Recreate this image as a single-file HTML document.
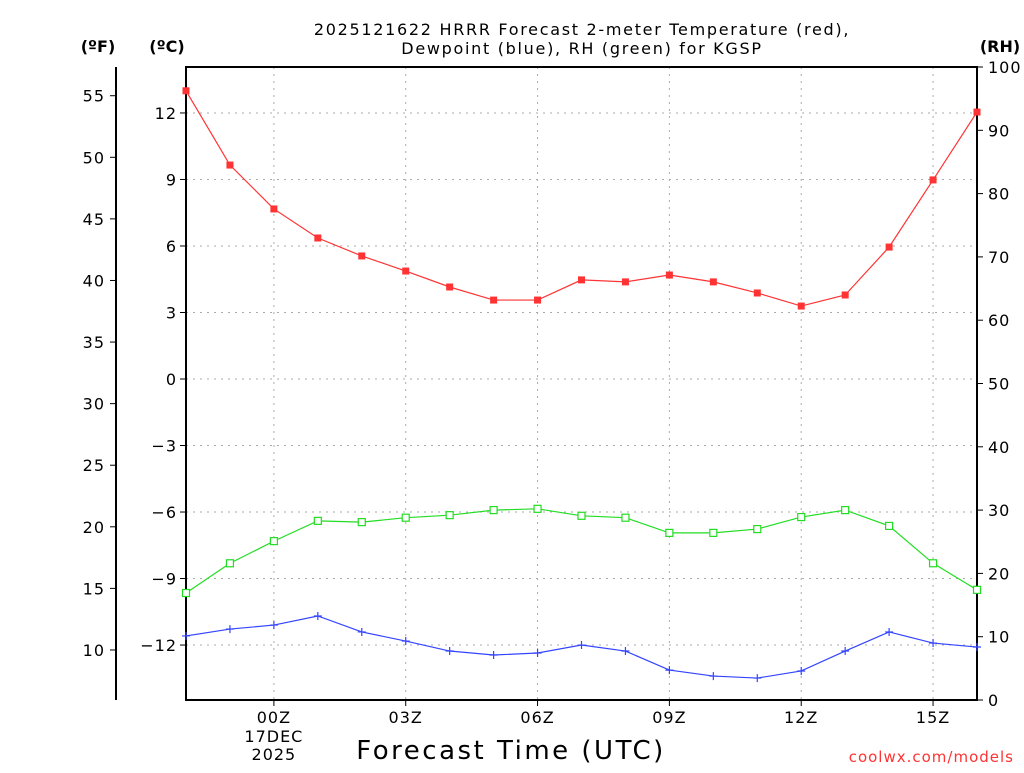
<!DOCTYPE html>
<html><head><meta charset="utf-8"><style>
body{margin:0;background:#fff;}
svg text{font-family:"DejaVu Sans","Liberation Sans",sans-serif;}
</style></head><body>
<svg id="chart" width="1024" height="768" xmlns="http://www.w3.org/2000/svg">
<rect width="1024" height="768" fill="#fff"/>
<g id="grid"></g>
<g id="axes"></g>
<g id="series"></g>
<text x="582" y="35" text-anchor="middle" font-size="16" letter-spacing="1.7">2025121622 HRRR Forecast 2-meter Temperature (red),</text>
<text x="582" y="54" text-anchor="middle" font-size="16" letter-spacing="1.7">Dewpoint (blue), RH (green) for KGSP</text>
<text x="98" y="52" text-anchor="middle" font-size="16" font-weight="bold">(ºF)</text>
<text x="167" y="52" text-anchor="middle" font-size="16" font-weight="bold">(ºC)</text>
<text x="1000" y="52" text-anchor="middle" font-size="16" font-weight="bold">(RH)</text>
<text x="511" y="759" text-anchor="middle" font-size="26" letter-spacing="2.5">Forecast Time (UTC)</text>
<text x="1014" y="762" text-anchor="end" font-size="15" fill="#ff3333" letter-spacing="1">coolwx.com/models</text>
</svg>
<script>
const hours = [22,23,0,1,2,3,4,5,6,7,8,9,10,11,12,13,14,15,16];
const tempC = [13.0,9.65,7.67,6.36,5.55,4.87,4.15,3.56,3.56,4.47,4.38,4.69,4.38,3.88,3.29,3.79,5.95,8.98,12.04];
const dewC = [-11.59,-11.28,-11.1,-10.69,-11.41,-11.82,-12.27,-12.45,-12.36,-12.0,-12.27,-13.13,-13.4,-13.49,-13.17,-12.27,-11.41,-11.91,-12.09];
const rh = [16.9,21.6,25.1,28.3,28.1,28.8,29.2,30.0,30.2,29.1,28.8,26.4,26.4,27.0,28.9,30.0,27.5,21.6,17.4];
const cTicks = [12,9,6,3,0,-3,-6,-9,-12];
const fTicks = [55,50,45,40,35,30,25,20,15,10];
const rhTicks = [0,10,20,30,40,50,60,70,80,90,100];
const xLabels = ["00Z","03Z","06Z","09Z","12Z","15Z"];
const xLabelIdx = [2,5,8,11,14,17];

const L=186,R=977,T=67,B=700;
const NS="http://www.w3.org/2000/svg";
const xs=i=>L+i*(R-L)/(hours.length-1);
const yC=c=>379-c*22.17;
const yF=f=>yC((f-32)*5/9);
const yRH=v=>B-v*(B-T)/100;
function mk(parent,tag,attrs,text){const e=document.createElementNS(NS,tag);for(const k in attrs)e.setAttribute(k,attrs[k]);if(text!==undefined)e.textContent=text;document.getElementById(parent).appendChild(e);return e;}

cTicks.forEach(c=>{
  const g=mk('grid','line',{x1:L,x2:R,y1:yC(c),y2:yC(c),stroke:'#aaa','stroke-dasharray':'2,5'});
  
  
  const t=mk('axes','line',{x1:L-6,x2:L,y1:yC(c),y2:yC(c),stroke:'#000'});
  
  
  const l=mk('axes','text',{x:L-9,y:yC(c)+6,'text-anchor':'end','font-size':'16','letter-spacing':'1'},c<0?'\u2212'+(-c):String(c));
  
  
});
xLabelIdx.forEach((idx,k)=>{
  const g=mk('grid','line',{x1:xs(idx),x2:xs(idx),y1:T,y2:B,stroke:'#aaa','stroke-dasharray':'2,5'});
  
  
  const t=mk('axes','line',{x1:xs(idx),x2:xs(idx),y1:B,y2:B+6,stroke:'#000'});
  
  
  const l=mk('axes','text',{x:xs(idx),y:723,'text-anchor':'middle','font-size':'16','letter-spacing':'1'},xLabels[k]);
  
  
});
let d1=mk('axes','text',{x:xs(2),y:742,'text-anchor':'middle','font-size':'16','letter-spacing':'1'},'17DEC');


let d2=mk('axes','text',{x:xs(2),y:760,'text-anchor':'middle','font-size':'16','letter-spacing':'1'},'2025');



let fa=mk('axes','line',{x1:116,x2:116,y1:T,y2:B,stroke:'#000','stroke-width':2});


fTicks.forEach(f=>{
  const t=mk('axes','line',{x1:110,x2:116,y1:yF(f),y2:yF(f),stroke:'#000'});
  
  
  const l=mk('axes','text',{x:105,y:yF(f)+6,'text-anchor':'end','font-size':'16','letter-spacing':'1'},String(f));
  
  
});
rhTicks.forEach(v=>{
  const t=mk('axes','line',{x1:R,x2:R+6,y1:yRH(v),y2:yRH(v),stroke:'#000'});
  
  
  const l=mk('axes','text',{x:988,y:yRH(v)+6,'text-anchor':'start','font-size':'16','letter-spacing':'1'},String(v));
  
  
});
let fr=mk('axes','rect',{x:L,y:T,width:R-L,height:B-T,fill:'none',stroke:'#000','stroke-width':2});



function line(vals,yf,color,name){
  const p=mk('series','polyline',{points:vals.map((v,i)=>xs(i)+','+yf(v)).join(' '),fill:'none',stroke:color,'stroke-width':1.2});
  
  
}
line(tempC,yC,'#ff3333','temperature-line');
line(dewC,yC,'#3344ff','dewpoint-line');
line(rh,yRH,'#22dd22','rh-line');
tempC.forEach((v,i)=>{
  const m=mk('series','rect',{x:xs(i)-3.5,y:yC(v)-3.5,width:7,height:7,fill:'#ff3333'});
  
  
});
dewC.forEach((v,i)=>{
  const m=mk('series','path',{d:`M${xs(i)-4},${yC(v)}h8M${xs(i)},${yC(v)-4}v8`,stroke:'#3344ff','stroke-width':1.2});
  
  
});
rh.forEach((v,i)=>{
  const m=mk('series','rect',{x:xs(i)-3.5,y:yRH(v)-3.5,width:7,height:7,fill:'#fff',stroke:'#22dd22','stroke-width':1.2});
  
  
});
</script>
</body></html>
